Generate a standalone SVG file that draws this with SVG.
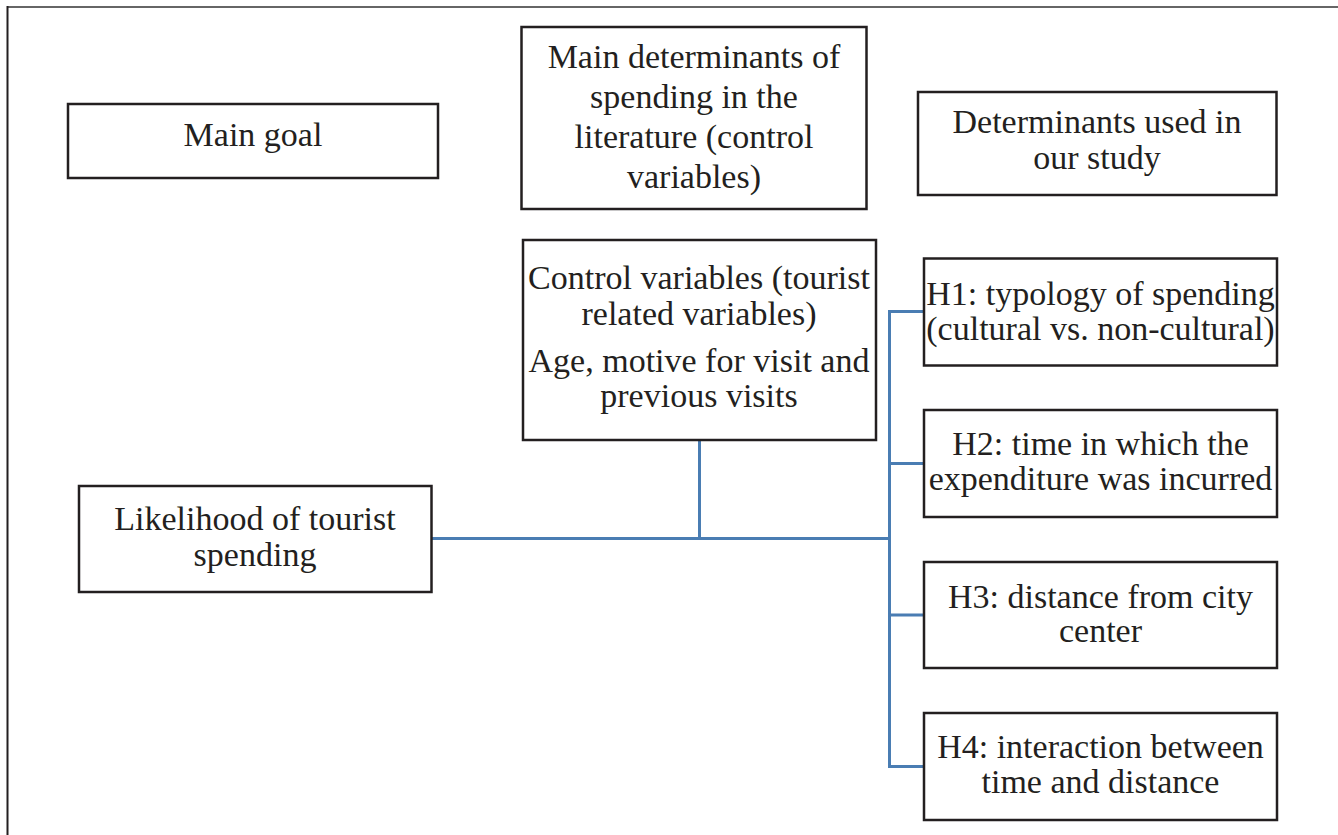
<svg xmlns="http://www.w3.org/2000/svg" width="1338" height="835" viewBox="0 0 1338 835">
<style>
.box{fill:#fff;stroke:#231f20;stroke-width:2.5}
.t{font-family:"Liberation Serif","Times New Roman",serif;font-size:34px;fill:#231f20;text-anchor:middle}
.c{fill:none;stroke:#4a7db3;stroke-width:3}
</style>
<rect width="1338" height="835" fill="#fff"/>
<g id="frame">
<line x1="7" y1="7" x2="1338" y2="7" stroke="#666" stroke-width="2"/>
<line x1="7.5" y1="6" x2="7.5" y2="835" stroke="#231f20" stroke-width="2"/>
</g>
<g id="connectors">
<path class="c" d="M431.5 538.5 H890"/>
<path class="c" d="M699.5 440 V538.5"/>
<path class="c" d="M889.5 311.5 V766.5"/>
<path class="c" d="M888 311.5 H924 M888 463.5 H924 M888 615 H924 M888 766.5 H924"/>
</g>
<g id="main-goal">
<rect class="box" x="68" y="104" width="370" height="74"/>
<text class="t" x="253" y="146">Main goal</text>
</g>
<g id="main-determinants">
<rect class="box" x="521.5" y="27" width="345" height="182"/>
<text class="t" x="694" y="68">Main determinants of</text>
<text class="t" x="694" y="108">spending in the</text>
<text class="t" x="694" y="148">literature (control</text>
<text class="t" x="694" y="188">variables)</text>
</g>
<g id="determinants-used">
<rect class="box" x="918" y="92" width="358.5" height="103"/>
<text class="t" x="1097" y="133">Determinants used in</text>
<text class="t" x="1097" y="169">our study</text>
</g>
<g id="control-variables">
<rect class="box" x="523" y="240" width="353" height="200"/>
<text class="t" x="699" y="289">Control variables (tourist</text>
<text class="t" x="699" y="325">related variables)</text>
<text class="t" x="699" y="372">Age, motive for visit and</text>
<text class="t" x="699" y="407">previous visits</text>
</g>
<g id="likelihood">
<rect class="box" x="79" y="486" width="352.5" height="106"/>
<text class="t" x="255" y="530">Likelihood of tourist</text>
<text class="t" x="255" y="566">spending</text>
</g>
<g id="h1">
<rect class="box" x="924" y="258.5" width="353" height="107"/>
<text class="t" x="1100.5" y="305">H1: typology of spending</text>
<text class="t" x="1100.5" y="340">(cultural vs. non-cultural)</text>
</g>
<g id="h2">
<rect class="box" x="924" y="410" width="353" height="107"/>
<text class="t" x="1100.5" y="455">H2: time in which the</text>
<text class="t" x="1100.5" y="490">expenditure was incurred</text>
</g>
<g id="h3">
<rect class="box" x="924" y="562" width="353" height="106"/>
<text class="t" x="1100.5" y="608">H3: distance from city</text>
<text class="t" x="1100.5" y="642">center</text>
</g>
<g id="h4">
<rect class="box" x="924" y="713" width="353" height="107"/>
<text class="t" x="1100.5" y="758">H4: interaction between</text>
<text class="t" x="1100.5" y="793">time and distance</text>
</g>
</svg>
